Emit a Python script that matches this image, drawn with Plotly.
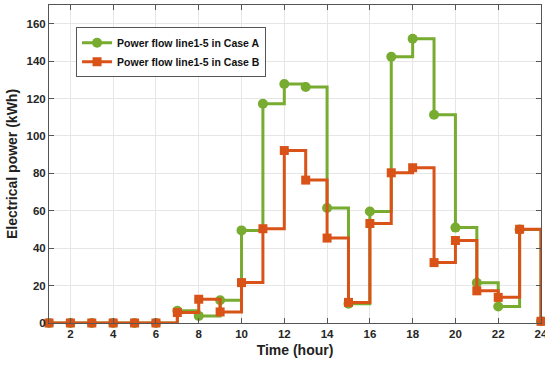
import plotly.graph_objects as go

hours = list(range(1, 25))
case_a = [0, 0, 0, 0, 0, 0, 6.5, 3.8, 12.2, 49.5, 117.2, 127.8, 126.2, 61.5, 10.3,
          59.6, 142.3, 152, 111.3, 51, 21.5, 8.8, 50, 1]
case_b = [0, 0, 0, 0, 0, 0, 5.6, 12.7, 5.9, 21.6, 50.4, 92.2, 76.4, 45.4, 11,
          53.2, 80.3, 83, 32.3, 44.1, 17.2, 13.7, 50.1, 0.9]
names = ["Power flow line1-5 in Case A", "Power flow line1-5 in Case B"]
colors = ["#77AC30", "#D95319"]
x_ticks = list(range(2, 25, 2))
y_ticks = list(range(0, 161, 20))

fig = go.Figure()
fig.add_trace(go.Scatter(x=hours, y=case_a, name=names[0], mode="lines+markers",
                         line=dict(shape="hv", color=colors[0], width=3),
                         marker=dict(symbol="circle", size=10, color=colors[0]),
                         cliponaxis=False))
fig.add_trace(go.Scatter(x=hours, y=case_b, name=names[1], mode="lines+markers",
                         line=dict(shape="hv", color=colors[1], width=3),
                         marker=dict(symbol="square", size=9, color=colors[1]),
                         cliponaxis=False))

axis_common = dict(showgrid=True, gridcolor="#E6E6E6", gridwidth=1,
                   showline=True, linecolor="#555555", linewidth=1, mirror="ticks",
                   ticks="inside", ticklen=5, tickcolor="#555555", zeroline=False,
                   ticklabeloverflow="allow", automargin=False,
                   tickfont=dict(family="Liberation Sans", size=11.5, color="#262626", weight="bold"))

fig.update_layout(
    width=545, height=366,
    margin=dict(l=49, r=4, t=5, b=43),
    paper_bgcolor="white", plot_bgcolor="white",
    font=dict(family="Liberation Sans", color="#222222"),
    xaxis=dict(range=[1, 24], tickvals=x_ticks,
               title=dict(text="<b>Time (hour)</b>", font=dict(size=14, color="#222222"), standoff=6),
               **axis_common),
    yaxis=dict(range=[0, 170], tickvals=y_ticks,
               title=dict(text="<b>Electrical power (kWh)</b>", font=dict(size=14, color="#222222"), standoff=5),
               **axis_common),
    legend=dict(x=0.055, y=0.93, xanchor="left", yanchor="top",
                bgcolor="white", bordercolor="#555555", borderwidth=1,
                font=dict(size=10.5, color="#111111", weight="bold"),
                tracegroupgap=0, itemwidth=30),
    showlegend=True,
)

fig.write_html("out.html")
